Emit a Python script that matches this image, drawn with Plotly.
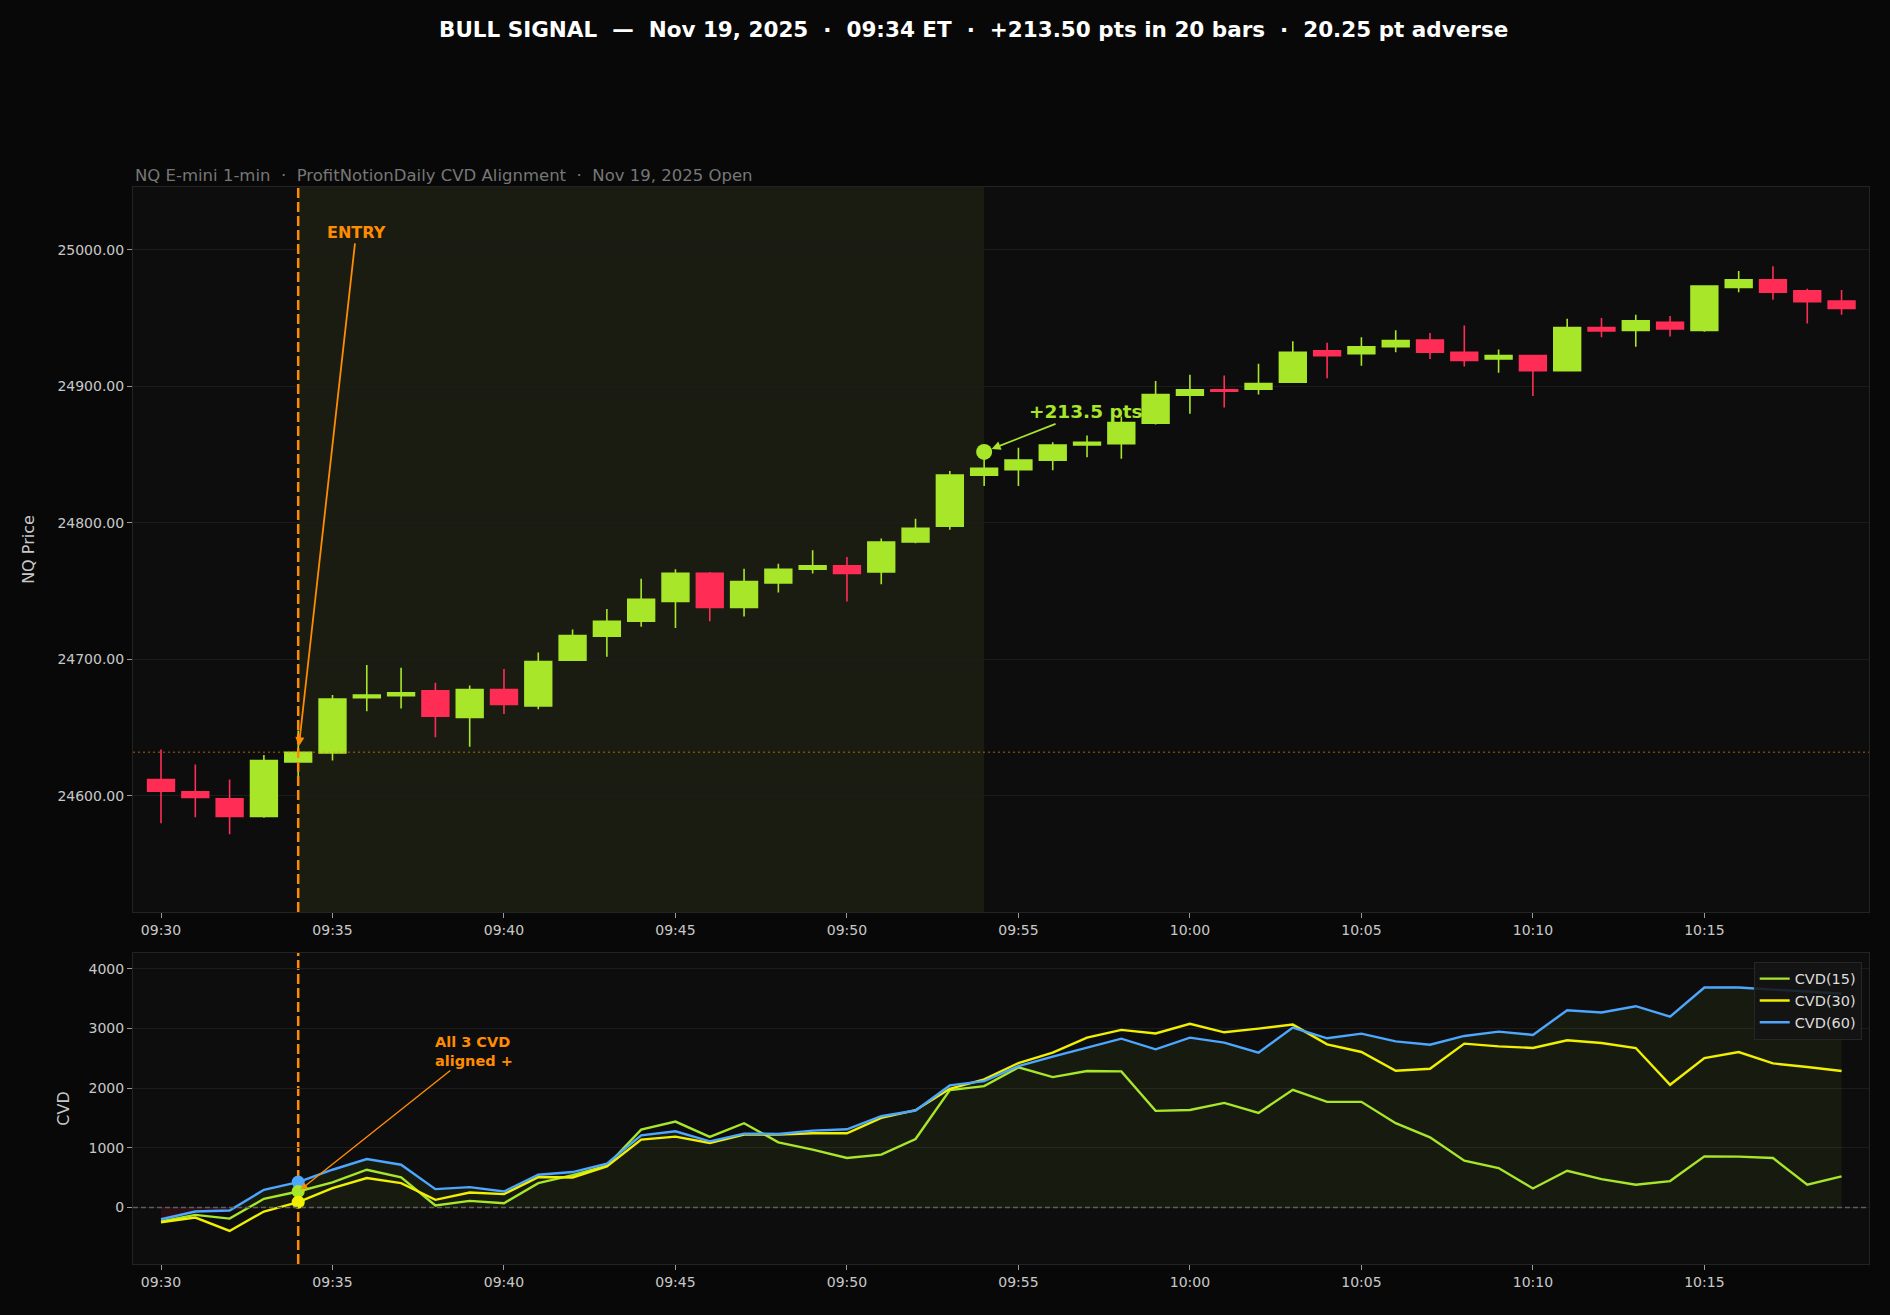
import pandas as pd
import plotly.graph_objects as go

# ---------------- data ----------------
times = ["09:30", "09:31", "09:32", "09:33", "09:34", "09:35", "09:36", "09:37", "09:38", "09:39",
         "09:40", "09:41", "09:42", "09:43", "09:44", "09:45", "09:46", "09:47", "09:48", "09:49",
         "09:50", "09:51", "09:52", "09:53", "09:54", "09:55", "09:56", "09:57", "09:58", "09:59",
         "10:00", "10:01", "10:02", "10:03", "10:04", "10:05", "10:06", "10:07", "10:08", "10:09",
         "10:10", "10:11", "10:12", "10:13", "10:14", "10:15", "10:16", "10:17", "10:18", "10:19"]

opens = [24612, 24603, 24598, 24585, 24625, 24631.5, 24672, 24673.5, 24677, 24657.5,
         24678, 24666, 24699.5, 24717, 24728, 24742.5, 24763, 24738, 24756, 24766,
         24768.5, 24764, 24786, 24797.5, 24835, 24839, 24846, 24857, 24858, 24873,
         24893.5, 24897.5, 24898, 24903, 24926, 24924, 24929, 24934, 24925, 24920,
         24922.5, 24911.5, 24943, 24941, 24947, 24941, 24972.5, 24978, 24970, 24962.5]
highs = [24634, 24623, 24612, 24630, 24648, 24674, 24696, 24694, 24683, 24681,
         24693, 24705, 24722, 24737, 24759, 24766, 24764, 24766.5, 24770, 24780,
         24775, 24788.5, 24803, 24838, 24850, 24855, 24859, 24864, 24878, 24904,
         24908.5, 24908, 24916.5, 24933, 24932, 24936, 24941, 24939, 24944.5, 24927,
         24923, 24949.5, 24950, 24952.5, 24951.5, 24974, 24984.5, 24988, 24971.5, 24970.5]
lows = [24580, 24584.5, 24572, 24584, 24611.75, 24626, 24662, 24664, 24643, 24636,
        24660, 24663.5, 24699, 24702, 24724, 24723, 24728, 24731.5, 24749, 24763,
        24742.5, 24755, 24785, 24795, 24827, 24827, 24838.5, 24848, 24847, 24872,
        24880, 24884.5, 24894, 24902.5, 24906, 24915, 24925, 24920, 24914.5, 24910,
        24893, 24911, 24936, 24929, 24936.5, 24940, 24969, 24963.5, 24946, 24952.5]
closes = [24603.5, 24599, 24585, 24626, 24632, 24671, 24674, 24675.5, 24658.5, 24678,
          24667, 24698.5, 24717.5, 24728, 24744, 24763, 24738, 24757, 24766, 24768.5,
          24763, 24786, 24796, 24835, 24840, 24846, 24857, 24859, 24873.5, 24894,
          24897.5, 24896.5, 24902, 24925, 24922.5, 24929, 24933.5, 24925, 24919, 24922.5,
          24911.5, 24943, 24940.5, 24948, 24942, 24973.5, 24978, 24969, 24962, 24957]

cvd15 = [-235, -123, -185, 146, 269, 420, 633, 504, 34, 112,
         73, 409, 543, 700, 1305, 1440, 1182, 1412, 1092, 969,
         829, 885, 1148, 1966, 2034, 2347, 2185, 2286, 2280, 1619,
         1633, 1753, 1585, 1972, 1770, 1770, 1412, 1176, 784, 661,
         319, 616, 476, 381, 443, 857, 852, 829, 381, 521]
cvd30 = [-246, -168, -392, -67, 90, 325, 493, 409, 129, 252,
         224, 510, 504, 689, 1137, 1188, 1081, 1221, 1221, 1244,
         1244, 1501, 1630, 1989, 2146, 2420, 2594, 2846, 2975, 2915,
         3078, 2935, 2997, 3064, 2734, 2605, 2291, 2325, 2745, 2700,
         2672, 2801, 2756, 2672, 2056, 2504, 2605, 2414, 2353, 2286]
cvd60 = [-196, -67, -50, 297, 426, 633, 812, 717, 308, 342,
         269, 549, 594, 734, 1210, 1277, 1109, 1238, 1232, 1288,
         1311, 1529, 1625, 2045, 2118, 2370, 2527, 2678, 2829, 2650,
         2846, 2762, 2594, 3014, 2835, 2913, 2784, 2728, 2874, 2947,
         2891, 3305, 3266, 3372, 3199, 3686, 3686, 3650, 3615, 3585]

entry_idx = 4
target_idx = 24
entry_price = 24632.0
target_price = 24852.0

price_ticks = [24600, 24700, 24800, 24900, 25000]
cvd_ticks = [0, 1000, 2000, 3000, 4000]

title_text = "BULL SIGNAL  —  Nov 19, 2025  ·  09:34 ET  ·  +213.50 pts in 20 bars  ·  20.25 pt adverse"
subtitle_text = "NQ E-mini 1-min  ·  ProfitNotionDaily CVD Alignment  ·  Nov 19, 2025 Open"
entry_label = "ENTRY"
target_label = "+213.5 pts"
cvd_label = "All 3 CVD<br>aligned +"

# ---------------- styling ----------------
FONT = "DejaVu Sans"
BG = "#080808"
PLOT_BG = "#0d0d0d"
GRID = "#1c1c1c"
FRAME = "#232323"
TICK_COL = "#c8c8c8"
GREEN = "#a8e62a"
RED = "#ff2d55"
YELLOW = "#f0f000"
BLUE = "#4da6ff"
ORANGE = "#ff8c00"

x = pd.to_datetime(["2025-11-19 " + t for t in times])
x_entry = x[entry_idx]
x_target = x[target_idx]
x_range = [x[0] - pd.Timedelta(seconds=49), x[-1] + pd.Timedelta(seconds=48)]

pos60 = [max(v, 0) for v in cvd60]
neg60 = [min(v, 0) for v in cvd60]

fig = go.Figure()

# main panel
fig.add_trace(go.Candlestick(
    x=x, open=opens, high=highs, low=lows, close=closes,
    increasing=dict(fillcolor=GREEN, line=dict(color=GREEN, width=1.6)),
    decreasing=dict(fillcolor=RED, line=dict(color=RED, width=1.6)),
    whiskerwidth=0, showlegend=False, xaxis="x", yaxis="y", hoverinfo="skip"))

fig.add_trace(go.Scatter(
    x=[x_target], y=[target_price], mode="markers",
    marker=dict(size=16, color=GREEN), showlegend=False, xaxis="x", yaxis="y"))

# CVD panel
fig.add_trace(go.Scatter(x=x, y=pos60, mode="lines", line=dict(width=0),
                         fill="tozeroy", fillcolor="rgba(168,230,42,0.065)",
                         showlegend=False, xaxis="x2", yaxis="y2", hoverinfo="skip"))
fig.add_trace(go.Scatter(x=x, y=neg60, mode="lines", line=dict(width=0),
                         fill="tozeroy", fillcolor="rgba(255,45,85,0.12)",
                         showlegend=False, xaxis="x2", yaxis="y2", hoverinfo="skip"))

for name, vals, col in [("CVD(15)", cvd15, GREEN), ("CVD(30)", cvd30, YELLOW), ("CVD(60)", cvd60, BLUE)]:
    fig.add_trace(go.Scatter(x=x, y=vals, mode="lines", name=name,
                             line=dict(color=col, width=2.4),
                             xaxis="x2", yaxis="y2"))

for vals, col in [(cvd60, BLUE), (cvd15, GREEN), (cvd30, YELLOW)]:
    fig.add_trace(go.Scatter(x=[x_entry], y=[vals[entry_idx]], mode="markers",
                             marker=dict(size=13, color=col), showlegend=False,
                             xaxis="x2", yaxis="y2"))

axis_common = dict(
    showgrid=False, zeroline=False, showline=True, mirror=True,
    linecolor=FRAME, linewidth=1, ticks="outside", ticklen=5, tickwidth=1.3,
    tickcolor="#9a9a9a", tickfont=dict(family=FONT, size=14, color=TICK_COL),
)

fig.update_layout(
    width=1890, height=1315, autosize=False,
    margin=dict(l=133, r=21, t=187, b=51),
    paper_bgcolor=BG, plot_bgcolor=PLOT_BG,
    font=dict(family=FONT, color=TICK_COL),
    boxgap=0.22, boxgroupgap=0,
    xaxis=dict(domain=[0, 1], anchor="y", type="date", range=x_range,
               tickformat="%H:%M", dtick=300000, tick0=x[0],
               rangeslider=dict(visible=False), **axis_common),
    yaxis=dict(domain=[0.3268, 1], anchor="x", range=[24515, 25046],
               tickvals=price_ticks, tickformat=".2f",
               title=dict(text="NQ Price", font=dict(family=FONT, size=16, color=TICK_COL), standoff=18),
               **{**axis_common, "showgrid": True, "gridcolor": GRID, "gridwidth": 1}),
    xaxis2=dict(domain=[0, 1], anchor="y2", type="date", range=x_range,
                tickformat="%H:%M", dtick=300000, tick0=x[0], **axis_common),
    yaxis2=dict(domain=[0, 0.2888], anchor="x2", range=[-946, 4264],
                tickvals=cvd_ticks, tickformat="d",
                title=dict(text="CVD", font=dict(family=FONT, size=16, color=TICK_COL), standoff=14),
                **{**axis_common, "showgrid": True, "gridcolor": GRID, "gridwidth": 1}),
    legend=dict(x=0.9958, y=0.2807, xanchor="right", yanchor="top",
                bgcolor="rgba(20,20,20,0.88)", bordercolor="#262626", borderwidth=1,
                font=dict(family=FONT, size=14.5, color="#dddddd"), itemwidth=30,
                tracegroupgap=0),
    showlegend=True,
)

shapes = [
    # bull window shading
    dict(type="rect", xref="x", yref="y domain", x0=x_entry, x1=x_target, y0=0, y1=1,
         fillcolor="#1a1c11", line=dict(width=0), layer="below"),
    # entry price level
    dict(type="line", xref="x domain", yref="y", x0=0, x1=1, y0=entry_price, y1=entry_price,
         line=dict(color="rgba(255,140,0,0.45)", width=1.5, dash="2px,3px")),
    # entry vertical lines
    dict(type="line", xref="x", yref="y domain", x0=x_entry, x1=x_entry, y0=0, y1=1,
         line=dict(color=ORANGE, width=2.5, dash="10px,4px")),
    dict(type="line", xref="x2", yref="y2 domain", x0=x_entry, x1=x_entry, y0=0, y1=1,
         line=dict(color=ORANGE, width=2.5, dash="10px,4px"), layer="below"),
    # CVD zero line
    dict(type="line", xref="x2 domain", yref="y2", x0=0, x1=1, y0=0, y1=0,
         line=dict(color="#5e5e5e", width=1.5, dash="5px,3px")),
]
fig.update_layout(shapes=shapes)

annotations = [
    dict(xref="paper", yref="paper", x=0.4844, y=1.1458, xanchor="center", yanchor="middle",
         text="<b>" + title_text + "</b>", showarrow=False,
         font=dict(family=FONT, size=21.5, color="#ffffff")),
    dict(xref="paper", yref="paper", x=0, y=1.0111, xanchor="left", yanchor="middle",
         text=subtitle_text, showarrow=False,
         font=dict(family=FONT, size=16.5, color="#777777")),
    dict(xref="x", yref="y", x=x_entry, y=entry_price, ax=58, ay=-520,
         text="<b>" + entry_label + "</b>", showarrow=True, arrowhead=2, arrowsize=1,
         arrowwidth=1.8, arrowcolor=ORANGE, standoff=6,
         font=dict(family=FONT, size=16, color=ORANGE)),
    dict(xref="x", yref="y", x=x_target, y=target_price, ax=102, ay=-40,
         text="<b>" + target_label + "</b>", showarrow=True, arrowhead=2, arrowsize=1,
         arrowwidth=1.8, arrowcolor=GREEN, standoff=8,
         font=dict(family=FONT, size=18.5, color=GREEN)),
    dict(xref="x2", yref="y2", x=x_entry, y=cvd15[entry_idx], ax=176, ay=-140,
         text="<b>" + cvd_label + "</b>", align="left", showarrow=True, arrowhead=2,
         arrowsize=1, arrowwidth=1.4, arrowcolor=ORANGE, standoff=3,
         font=dict(family=FONT, size=14.5, color=ORANGE)),
]
fig.update_layout(annotations=annotations)

fig.write_html("out.html")
